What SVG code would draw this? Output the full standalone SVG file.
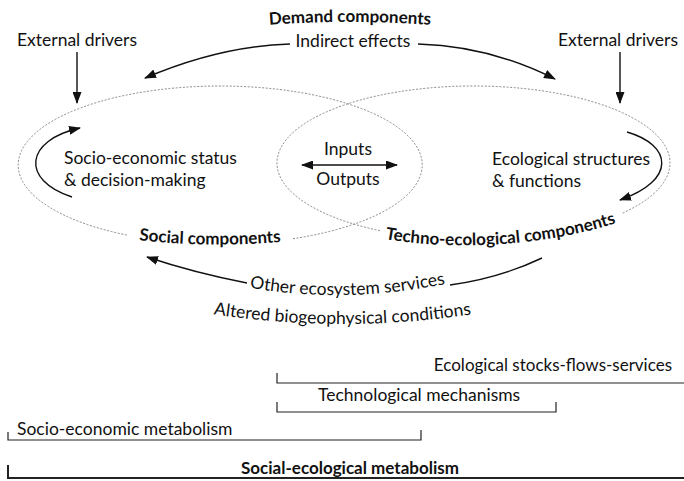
<svg xmlns="http://www.w3.org/2000/svg" width="684" height="481" viewBox="0 0 684 481">
<style>
.t{font-family:Lato,"Liberation Sans",sans-serif;font-size:17.5px;fill:#111}
.b{font-family:Lato,"Liberation Sans",sans-serif;font-size:17px;font-weight:bold;fill:#111}
.dash{fill:none;stroke:#7a7a7a;stroke-width:0.9;stroke-dasharray:2 1.6}
.arr{fill:none;stroke:#111;stroke-width:1.4}
.br{fill:none;stroke:#222;stroke-width:1.2}
</style>
<defs>
<marker id="ah" markerUnits="userSpaceOnUse" markerWidth="12" markerHeight="9" refX="11" refY="4.5" orient="auto-start-reverse" viewBox="0 0 12 9">
<path d="M0,0 L12,4.5 L0,9 z" fill="#111"/>
</marker>
<path id="pDemand" d="M255,26 Q350,18 445,26"/>
<path id="pSocial" d="M120,238 Q210,250 300,240"/>
<path id="pTechno" d="M385,239 C440,249 540,250 625,220"/>
<path id="pOther" d="M245,287 Q345,305 450,283"/>
<path id="pAltered" d="M205,313 Q343,335 480,313"/>
</defs>
<rect width="684" height="481" fill="#fff"/>

<g id="social-components">
<path class="dash" d="M293,238.7 A202 79 0 1 0 128,235.3"/>
<text class="t" x="64" y="164">Socio-economic status</text>
<text class="t" x="64" y="186">&amp; decision-making</text>
<text class="b"><textPath href="#pSocial" startOffset="50%" text-anchor="middle">Social components</textPath></text>
</g>

<g id="techno-ecological-components">
<path class="dash" d="M380,230.7 A196.5 77 0 1 1 622,213.4"/>
<text class="t" x="492" y="165">Ecological structures</text>
<text class="t" x="492" y="187">&amp; functions</text>
<text class="b"><textPath href="#pTechno" startOffset="0">Techno-ecological components</textPath></text>
</g>

<g id="inputs-outputs">
<text class="t" x="348" y="155" text-anchor="middle">Inputs</text>
<text class="t" x="348" y="185" text-anchor="middle">Outputs</text>
</g>

<g id="demand-components">
<text class="b"><textPath href="#pDemand" startOffset="50%" text-anchor="middle">Demand components</textPath></text>
<text class="t" x="353" y="47" text-anchor="middle">Indirect effects</text>
</g>

<g id="external-drivers-left">
<text class="t" x="77" y="46" text-anchor="middle">External drivers</text>
</g>
<g id="external-drivers-right">
<text class="t" x="618" y="46" text-anchor="middle">External drivers</text>
</g>

<g id="other-services">
<text class="t"><textPath href="#pOther" startOffset="50%" text-anchor="middle">Other ecosystem services</textPath></text>
<text class="t"><textPath href="#pAltered" startOffset="50%" text-anchor="middle">Altered biogeophysical conditions</textPath></text>
</g>

<g id="connectors">
<path class="arr" d="M290,44 Q220,46 145,78" marker-end="url(#ah)"/>
<path class="arr" d="M418,44 Q490,46 555,79" marker-end="url(#ah)"/>
<path class="arr" d="M77,52 L77,103" marker-end="url(#ah)"/>
<path class="arr" d="M620,52 L620,103" marker-end="url(#ah)"/>
<path class="arr" d="M72,197 C20,180 25,140 80,128" marker-end="url(#ah)"/>
<path class="arr" d="M627,132 C672,145 677,180 620,200" marker-end="url(#ah)"/>
<path class="arr" d="M302,165 L397,165" marker-start="url(#ah)" marker-end="url(#ah)"/>
<path class="arr" d="M542,258 Q500,278 450,285"/>
<path class="arr" d="M247,283 Q195,273 147,257" marker-end="url(#ah)"/>
</g>

<g id="scales">
<g id="ecological-stocks">
<path class="br" d="M277,373 L277,383 L684,383"/>
<text class="t" x="672" y="371" text-anchor="end" style="font-size:17px">Ecological stocks-flows-services</text>
</g>
<g id="technological-mechanisms">
<path class="br" d="M277,402 L277,412 L556,412 L556,402"/>
<text class="t" x="318" y="401">Technological mechanisms</text>
</g>
<g id="socio-economic-metabolism">
<path class="br" d="M8,432 L8,440 L421,440 L421,430"/>
<text class="t" x="17" y="435">Socio-economic metabolism</text>
</g>
<g id="social-ecological-metabolism">
<path class="br" style="stroke-width:2" d="M8,465 L8,478 L684,478"/>
<text class="b" x="350" y="474" text-anchor="middle">Social-ecological metabolism</text>
</g>
</g>
</svg>
